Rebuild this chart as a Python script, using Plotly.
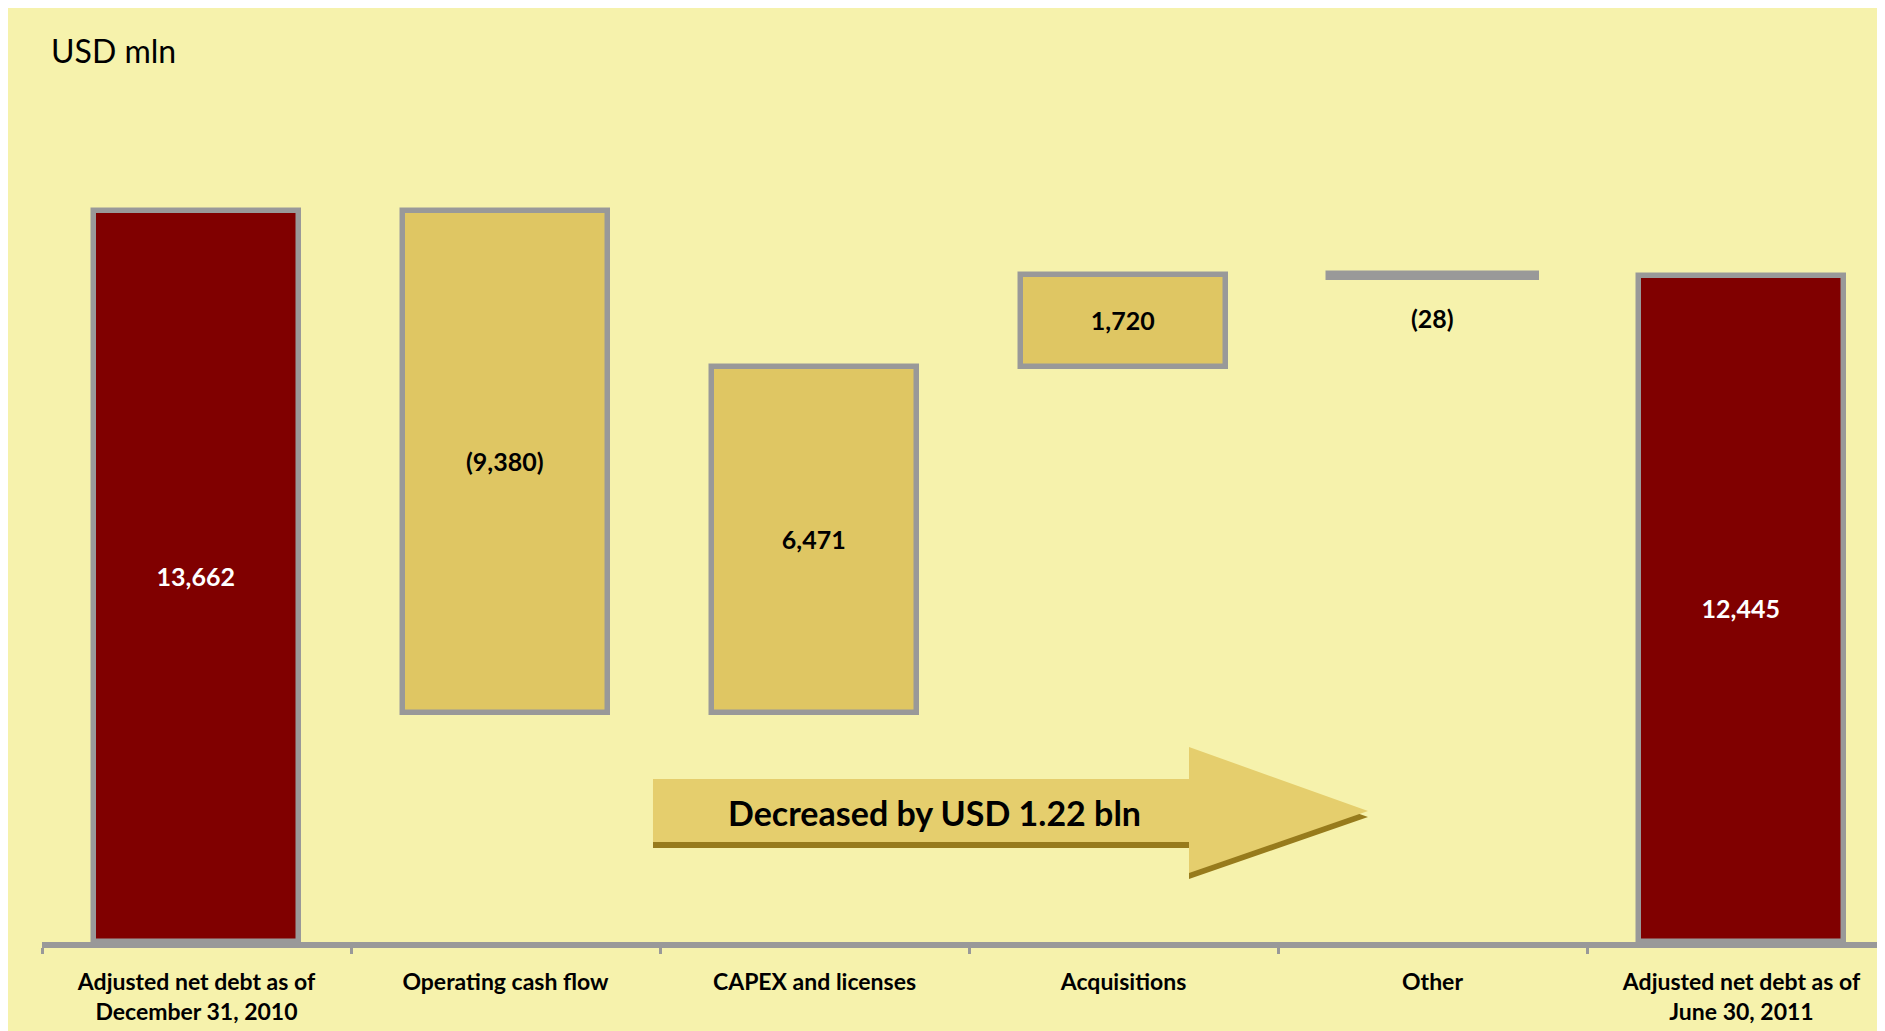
import plotly.graph_objects as go

# ---------------- data ----------------
categories = [
    "Adjusted net debt as of<br>December 31, 2010",
    "Operating cash flow",
    "CAPEX and licenses",
    "Acquisitions",
    "Other",
    "Adjusted net debt as of<br>June 30, 2011",
]
measures = ["absolute", "relative", "relative", "relative", "relative", "total"]
values = [13662, -9380, 6471, 1720, -28, 12445]
unit_label = "USD mln"
arrow_label = "Decreased by USD 1.22 bln"

# ---------------- styles ----------------
BG = "#F6F2AC"
RED = "#800000"
GOLD = "#DFC663"
ARROW = "#E5CE6D"
SHADOW = "#977B1C"
GRAY = "#999999"
FONT = "Lato"

W, H = 1885, 1031
ML, MR, MT, MB = 34, 0, 100, 97
PW, PH = W - ML - MR, H - MT - MB

# ---------------- bar geometry from data ----------------
bases, heights, labels, fills, tcolors, lw = [], [], [], [], [], []
running = 0
for m, v in zip(measures, values):
    if m in ("absolute", "total"):
        base, h = 0, v
        running = v
        fills.append(RED)
        tcolors.append("white")
    else:
        new = running + v
        base, h = min(running, new), abs(v)
        running = new
        fills.append(GOLD)
        tcolors.append("black")
    bases.append(base)
    heights.append(h)
    labels.append(f"({abs(v):,})" if v < 0 else f"{v:,}")

small = [i for i, h in enumerate(heights) if h < 500]
bar_text = ["" if i in small else t for i, t in enumerate(labels)]
line_w = [8.5 if i in small else 5.5 for i in range(len(values))]

fig = go.Figure()
fig.add_trace(go.Bar(
    x=categories,
    y=heights,
    base=bases,
    width=0.663,
    marker=dict(color=fills, line=dict(color=GRAY, width=line_w)),
    text=bar_text,
    textposition="inside",
    insidetextanchor="middle",
    textangle=0,
    textfont=dict(family=FONT, size=25, color=tcolors, weight="bold"),
    hoverinfo="skip",
))

# label of tiny bar, placed below it
for i in small:
    fig.add_annotation(
        x=categories[i], y=bases[i], xref="x", yref="y",
        text=f"<b>{labels[i]}</b>", showarrow=False,
        yanchor="middle", yshift=-42,
        font=dict(family=FONT, size=25, color="black"),
    )

# ---------------- pixel -> paper helpers (decoration only) ----------------
def px(xp):
    return (xp - ML) / PW

def py(yp):
    return (H - MB - yp) / PH

# arrow
def arrow_path(dy):
    pts = [(645, 771), (1181, 771), (1181, 739), (1360, 803),
           (1181, 865), (1181, 834), (645, 834)]
    return "M " + " L ".join(f"{px(x):.5f},{py(y + dy):.5f}" for x, y in pts) + " Z"

fig.add_shape(type="path", xref="paper", yref="paper", path=arrow_path(6),
              fillcolor=SHADOW, line=dict(width=0), layer="above")
fig.add_shape(type="path", xref="paper", yref="paper", path=arrow_path(0),
              fillcolor=ARROW, line=dict(width=0), layer="above")

fig.add_annotation(xref="paper", yref="paper", x=px(926), y=py(804),
                   text=f"<b>{arrow_label}</b>", showarrow=False,
                   xanchor="center", yanchor="middle",
                   font=dict(family=FONT, size=34, color="black"))

fig.add_annotation(xref="paper", yref="paper", x=px(41), y=py(43),
                   text=unit_label, showarrow=False,
                   xanchor="left", yanchor="middle",
                   font=dict(family=FONT, size=32, color="black"))

# ---------------- layout ----------------
px_per_unit = (H - MB - 203) / values[0]
ymax = PH / px_per_unit
span = PW / 309.0

fig.update_layout(
    width=W, height=H,
    margin=dict(l=ML, r=MR, t=MT, b=MB, autoexpand=False),
    paper_bgcolor=BG,
    plot_bgcolor=BG,
    showlegend=False,
    bargap=0,
    xaxis=dict(
        type="category",
        range=[-0.5, -0.5 + span],
        showline=True, linecolor=GRAY, linewidth=6,
        ticks="outside", tickson="boundaries", ticklen=6, tickwidth=3, tickcolor=GRAY,
        ticklabelstandoff=14,
        tickfont=dict(family=FONT, size=23, color="black", weight="bold"),
        showgrid=False, zeroline=False, fixedrange=True,
    ),
    yaxis=dict(
        range=[0, ymax], visible=False, showgrid=False, zeroline=False, fixedrange=True,
    ),
)

fig.write_html("out.html")
